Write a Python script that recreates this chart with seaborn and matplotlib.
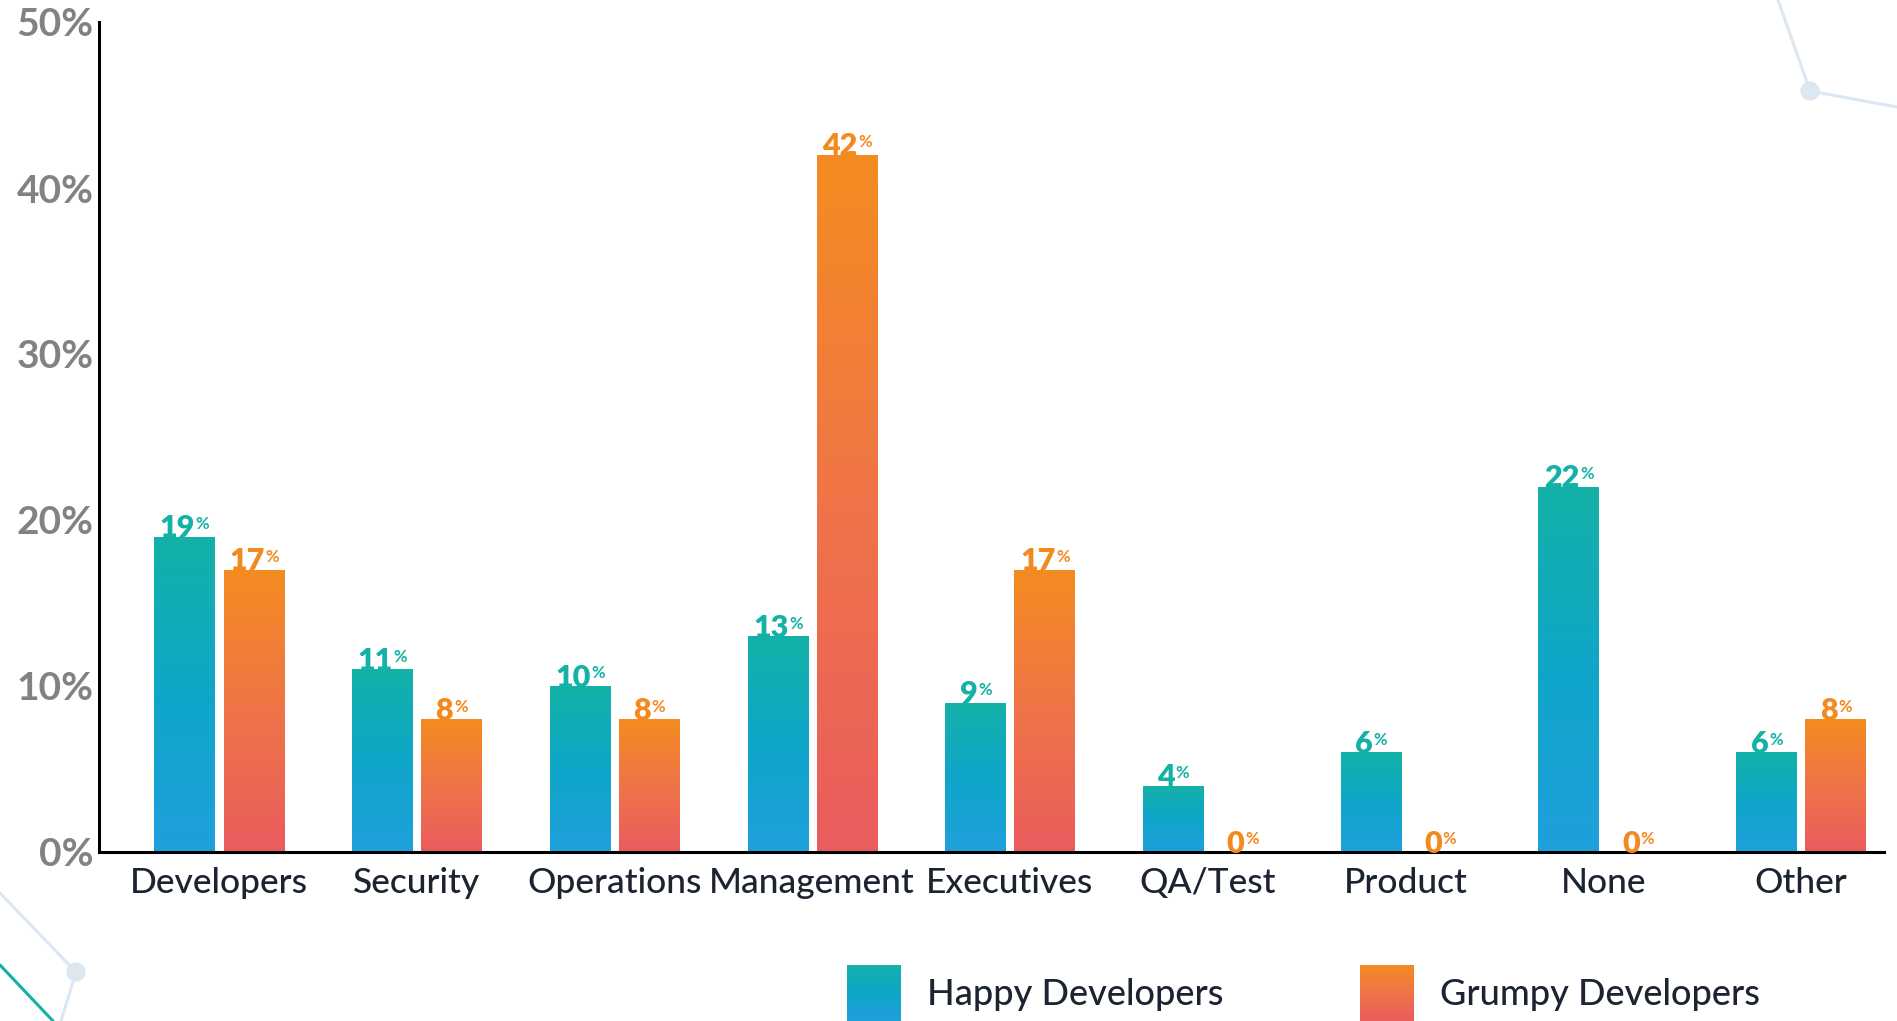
import numpy as np
import pandas as pd
import matplotlib.pyplot as plt
import seaborn as sns
from matplotlib.colors import LinearSegmentedColormap
from matplotlib.lines import Line2D
from matplotlib.patches import Circle

roles = ['Developers', 'Security', 'Operations', 'Management', 'Executives',
         'QA/Test', 'Product', 'None', 'Other']
happy = [19, 11, 10, 13, 9, 4, 6, 22, 6]
grumpy = [17, 8, 8, 42, 17, 0, 0, 0, 8]
groups = ['Happy Developers', 'Grumpy Developers']
yticks = [0, 10, 20, 30, 40, 50]

# gradient colours (top -> bottom) and label colours
happy_grad = LinearSegmentedColormap.from_list('happy', ['#14b1a7', '#0fa6c9', '#1fa0dc'])
grumpy_grad = LinearSegmentedColormap.from_list('grumpy', ['#f48c20', '#ef7448', '#ea5c5e'])
label_colors = ['#14b1a6', '#f4891f']

df = pd.DataFrame({
    'role': roles * 2,
    'pct': happy + grumpy,
    'group': [groups[0]] * len(roles) + [groups[1]] * len(roles),
})

sns.set_style('white')
plt.rcParams['font.family'] = ['Lato', 'DejaVu Sans']

W, H = 1897, 1021
fig = plt.figure(figsize=(W / 100, H / 100), dpi=100)
ax = fig.add_axes([99 / W, 1 - 852 / H, (1884 - 99) / W, (852 - 22) / H])
ax.patch.set_alpha(0)

sns.barplot(data=df, x='role', y='pct', hue='group', order=roles, hue_order=groups,
            palette=['#14b1a6', '#f48c20'], width=0.7, gap=0.13, legend=False, ax=ax)

ramp = np.linspace(0, 1, 256).reshape(-1, 1)
for cont, cmap, col in zip(ax.containers, [happy_grad, grumpy_grad], label_colors):
    for bar, val in zip(cont.patches, cont.datavalues):
        x, w, h = bar.get_x(), bar.get_width(), bar.get_height()
        bar.set_facecolor('none')
        bar.set_edgecolor('none')
        if h > 0:
            im = ax.imshow(ramp, cmap=cmap, aspect='auto', extent=[x, x + w, 0, h],
                           origin='upper', zorder=2)
            im.set_clip_path(bar)
        num = ax.annotate(f'{int(val)}', xy=(x + w / 2, val), xytext=(-5, -0.5),
                          textcoords='offset points', ha='center', va='baseline',
                          fontsize=22, fontweight='heavy', color=col, zorder=5,
                          annotation_clip=False)
        ax.annotate('%', xy=(1, 0), xycoords=num, xytext=(0.5, 9.5),
                    textcoords='offset points', ha='left', va='baseline',
                    fontsize=12, fontweight='bold', color=col, zorder=5)

ax.set_xlim(-0.607, 8.42)
ax.set_ylim(0, 50)
ax.set_yticks(yticks)
ax.set_yticklabels([f'{t}%' for t in yticks])
ax.set_xlabel('')
ax.set_ylabel('')
sns.despine(ax=ax, top=True, right=True)
for s in ['left', 'bottom']:
    ax.spines[s].set_color('black')
    ax.spines[s].set_linewidth(2.2)
ax.tick_params(axis='y', direction='in', length=11.5, width=2.2, color='black',
               pad=4, labelsize=28, labelcolor='#808285')
ax.tick_params(axis='x', length=0, pad=11, labelsize=25.5, labelcolor='#1c2331')
for lab in ax.get_yticklabels():
    lab.set_fontweight('bold')
for lab in ax.get_xticklabels():
    lab.set_fontweight('medium')

# legend drawn by hand with gradient swatches
for x0, cmap, name in [(847, happy_grad, groups[0]), (1360, grumpy_grad, groups[1])]:
    sw = fig.add_axes([x0 / W, 0, 54 / W, 56 / H])
    sw.imshow(ramp, cmap=cmap, aspect='auto', origin='upper')
    sw.set_axis_off()
    fig.text((x0 + 80) / W, 1 - 994 / H, name, fontsize=26, color='#1c2331',
             fontweight='medium', va='center', ha='left')

# background network decoration
def fx(px):
    return px / W

def fy(py):
    return 1 - py / H

deco = '#dde7f2'
for (xs, ys, c) in [([1778, 1810, 1897], [0, 91, 107], deco),
                    ([0, 76, 61], [893, 972, 1021], deco),
                    ([0, 53], [965, 1021], '#14b1a6')]:
    fig.add_artist(Line2D([fx(v) for v in xs], [fy(v) for v in ys], color=c,
                          lw=2.2, transform=fig.transFigure, zorder=-1))
for cx, cy in [(1810, 91), (76, 972)]:
    fig.add_artist(Circle((cx, H - cy), 9, transform=None, color=deco, zorder=-1))

fig.savefig('out.png', dpi=100)
